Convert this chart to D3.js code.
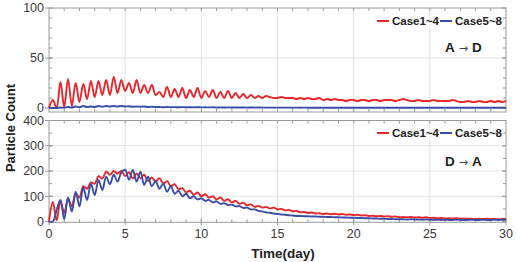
<!DOCTYPE html>
<html>
<head>
<meta charset="utf-8">
<script src="https://cdn.jsdelivr.net/npm/d3@7"></script>
<style>
  html, body { margin: 0; padding: 0; background: #fff; }
  svg { display: block; font-family: "Liberation Sans", Arial, sans-serif; }
</style>
</head>
<body>
<svg id="chart" width="517" height="262"></svg>
<script>
// ---- data (sampled every 0.25 day, day 0 .. 30) ----
const timeStepDays = 0.25;
const seriesNames = ["Case1~4", "Case5~8"];
const seriesColors = ["#e8262b", "#3b4ea6"];
const panelLabels = ["A \u2192 D", "D \u2192 A"];

const topCase1to4 = [
  0, 8, 0, 26, 1, 29, 2, 25, 6, 24, 9, 27, 11, 27, 13, 28, 13, 31, 15, 28,
  17, 25, 15, 28, 15, 23, 15, 23, 13, 16, 11, 21, 11, 19, 11, 20, 10, 18, 11, 20,
  10, 17, 11, 18, 10, 16, 10, 17, 10, 15, 10, 14, 10, 13, 10, 12, 10, 12, 11, 10,
  10, 11, 10, 10, 10, 9, 10, 9, 10, 9, 9, 10, 8, 9, 8, 9, 8, 8, 7, 8,
  8, 7, 8, 8, 7, 8, 8, 7, 8, 8, 8, 7, 8, 9, 8, 7, 7, 8, 7, 7,
  7, 8, 7, 7, 7, 7, 8, 7, 6, 6, 7, 6, 6, 7, 6, 6, 7, 6, 7, 6,
  7
];
const topCase5to8 = [
  0, 0, 0, 0.5, 0.3, 1, 0.5, 1.5, 0.8, 2, 1, 1.5, 1, 2, 1.2, 2, 1.5, 2, 1.5, 2,
  1.5, 1.8, 1.3, 1.5, 1.2, 1.5, 1, 1.2, 1, 1, 0.8, 1, 0.8, 0.9, 0.7, 0.9, 0.7, 0.8, 0.6, 0.8,
  0.6, 0.7, 0.6, 0.7, 0.5, 0.6, 0.5, 0.6, 0.5, 0.5, 0.5, 0.5, 0.4, 0.5, 0.4, 0.5, 0.4, 0.4, 0.4, 0.4,
  0.4, 0.4, 0.4, 0.4, 0.3, 0.4, 0.3, 0.4, 0.3, 0.3, 0.3, 0.3, 0.3, 0.3, 0.3, 0.3, 0.3, 0.3, 0.3, 0.3,
  0.3, 0.3, 0.3, 0.3, 0.3, 0.3, 0.3, 0.3, 0.3, 0.3, 0.3, 0.3, 0.3, 0.3, 0.3, 0.3, 0.3, 0.3, 0.3, 0.3,
  0.3, 0.3, 0.3, 0.3, 0.3, 0.3, 0.3, 0.3, 0.3, 0.3, 0.3, 0.3, 0.3, 0.3, 0.3, 0.3, 0.3, 0.3, 0.3, 0.3,
  0.3
];
const bottomCase1to4 = [
  0, 78, 5, 80, 35, 90, 60, 110, 95, 140, 130, 155, 150, 180, 170, 198, 185, 200, 190, 200,
  180, 195, 170, 190, 172, 185, 160, 175, 158, 172, 150, 160, 140, 148, 128, 132, 115, 122, 106, 115,
  100, 108, 95, 100, 88, 95, 82, 88, 76, 82, 70, 75, 64, 68, 58, 62, 55, 58, 52, 55,
  48, 50, 44, 46, 40, 42, 37, 38, 34, 36, 32, 33, 30, 32, 29, 31, 28, 30, 27, 28,
  26, 27, 24, 25, 22, 23, 21, 22, 20, 21, 19, 20, 17, 18, 17, 18, 16, 17, 15, 17,
  14, 15, 13, 14, 12, 13, 12, 13, 11, 12, 11, 11, 10, 11, 10, 11, 10, 10, 9, 10,
  10
];
const bottomCase5to8 = [
  0, 0, 45, 85, 10, 95, 40, 118, 60, 135, 85, 150, 105, 165, 125, 178, 148, 185, 158, 195,
  205, 165, 204, 158, 197, 145, 178, 140, 160, 130, 150, 118, 140, 110, 122, 100, 110, 92, 100, 88,
  92, 82, 86, 76, 80, 70, 73, 65, 67, 60, 61, 54, 55, 48, 48, 42, 40, 36, 35, 32,
  30, 28, 27, 25, 24, 22, 22, 21, 21, 20, 20, 19, 19, 18, 18, 17, 17, 16, 16, 15,
  15, 14, 14, 13, 13, 12, 12, 11, 11, 10, 10, 9, 9, 9, 8, 9, 8, 8, 7, 8,
  7, 7, 7, 6, 7, 6, 6, 7, 6, 6, 6, 7, 6, 6, 7, 6, 6, 7, 6, 7,
  7
];

const xTicks = [0, 5, 10, 15, 20, 25, 30];
const topYTicks = [0, 50, 100];
const bottomYTicks = [0, 100, 200, 300, 400];

// ---- layout ----
const svg = d3.select("#chart");
const left = 49, right = 506;
const x = d3.scaleLinear().domain([0, 30]).range([left, right]);

const panels = [
  { top: 8, bottom: 112, domain: [-4, 100], ticks: topYTicks, minor: 10,
    series: [topCase1to4, topCase5to8], label: panelLabels[0], legendY: 21, labelY: 47 },
  { top: 120.5, bottom: 222.3, domain: [-3, 400], ticks: bottomYTicks, minor: 50,
    series: [bottomCase1to4, bottomCase5to8], label: panelLabels[1], legendY: 133, labelY: 161 }
];

const axisColor = "#9a9a9a";
const gridColor = "#e2e2e2";
const textColor = "#3a3a3a";

panels.forEach((p, pi) => {
  const y = d3.scaleLinear().domain(p.domain).range([p.bottom, p.top]);
  const g = svg.append("g");

  // grid
  g.selectAll(".vg").data(xTicks.slice(1, -1)).join("line")
    .attr("x1", d => x(d)).attr("x2", d => x(d))
    .attr("y1", p.top).attr("y2", p.bottom)
    .attr("stroke", gridColor).attr("stroke-width", 1);
  g.selectAll(".hg").data(p.ticks.filter(t => t > 0 && t < p.domain[1])).join("line")
    .attr("x1", left).attr("x2", right)
    .attr("y1", d => y(d)).attr("y2", d => y(d))
    .attr("stroke", gridColor).attr("stroke-width", 1);

  // minor ticks
  const minorX = d3.range(1, 30);
  const minorY = d3.range(p.minor, p.domain[1], p.minor);
  const tk = g.append("g").attr("stroke", axisColor).attr("stroke-width", 1);
  minorX.forEach(d => {
    tk.append("line").attr("x1", x(d)).attr("x2", x(d)).attr("y1", p.top).attr("y2", p.top + 3);
    tk.append("line").attr("x1", x(d)).attr("x2", x(d)).attr("y1", p.bottom).attr("y2", p.bottom - 3);
  });
  minorY.forEach(d => {
    tk.append("line").attr("x1", left).attr("x2", left + 3).attr("y1", y(d)).attr("y2", y(d));
    tk.append("line").attr("x1", right).attr("x2", right - 3).attr("y1", y(d)).attr("y2", y(d));
  });
  // major y ticks (crossing)
  p.ticks.forEach(d => {
    tk.append("line").attr("x1", left - 4).attr("x2", left + 4).attr("y1", y(d)).attr("y2", y(d));
    tk.append("line").attr("x1", right - 4).attr("x2", right).attr("y1", y(d)).attr("y2", y(d));
  });

  // frame
  g.append("rect").attr("x", left).attr("y", p.top)
    .attr("width", right - left).attr("height", p.bottom - p.top)
    .attr("fill", "none").attr("stroke", axisColor).attr("stroke-width", 1);

  // y labels
  g.selectAll(".yl").data(p.ticks).join("text")
    .attr("x", left - 5).attr("y", d => y(d)).attr("dy", "0.35em")
    .attr("text-anchor", "end").attr("font-size", 12.5).attr("fill", textColor)
    .text(d => d);

  // lines
  const line = d3.line()
    .x((d, i) => x(i * timeStepDays))
    .y(d => y(d))
    .curve(d3.curveCatmullRom.alpha(0.5));
  p.series.forEach((s, si) => {
    g.append("path").datum(s).attr("d", line)
      .attr("fill", "none").attr("stroke", seriesColors[si])
      .attr("stroke-width", 1.9).attr("stroke-linejoin", "round");
  });

  // legend
  const lg = g.append("g").attr("font-weight", "bold").attr("font-size", 11.5).attr("fill", "#222");
  const legendX = [377, 440];
  seriesNames.forEach((n, si) => {
    lg.append("line").attr("x1", legendX[si]).attr("x2", legendX[si] + 12)
      .attr("y1", p.legendY).attr("y2", p.legendY)
      .attr("stroke", seriesColors[si]).attr("stroke-width", 2);
    lg.append("text").attr("x", legendX[si] + 15).attr("y", p.legendY).attr("dy", "0.35em").text(n);
  });
  // panel label
  const parts = p.label.split(" ");
  const lt = g.append("text").attr("x", 445).attr("y", p.labelY).attr("dy", "0.35em")
    .attr("font-weight", "bold").attr("font-size", 13.5).attr("fill", "#222");
  lt.append("tspan").text(parts[0]);
  lt.append("tspan").attr("font-family", "DejaVu Sans").attr("font-size", 11)
    .attr("font-weight", "normal").attr("fill", "#444").attr("dx", 4).text(parts[1]);
  lt.append("tspan").attr("dx", 4).text(parts[2]);

  if (pi === 1) {
    // x tick labels
    g.selectAll(".xl").data(xTicks).join("text")
      .attr("x", d => x(d)).attr("y", 238).attr("text-anchor", "middle")
      .attr("font-size", 12.5).attr("fill", textColor).text(d => d);
    xTicks.forEach(d => {
      tk.append("line").attr("x1", x(d)).attr("x2", x(d)).attr("y1", p.bottom - 4).attr("y2", p.bottom + 3);
    });
  }
});

// axis titles
svg.append("text").attr("transform", "translate(15,128) rotate(-90)")
  .attr("text-anchor", "middle").attr("font-weight", "bold").attr("font-size", 13)
  .attr("fill", "#222").text("Particle Count");
svg.append("text").attr("x", 283).attr("y", 258).attr("text-anchor", "middle")
  .attr("font-weight", "bold").attr("font-size", 13.5).attr("fill", "#222").text("Time(day)");
</script>
</body>
</html>
